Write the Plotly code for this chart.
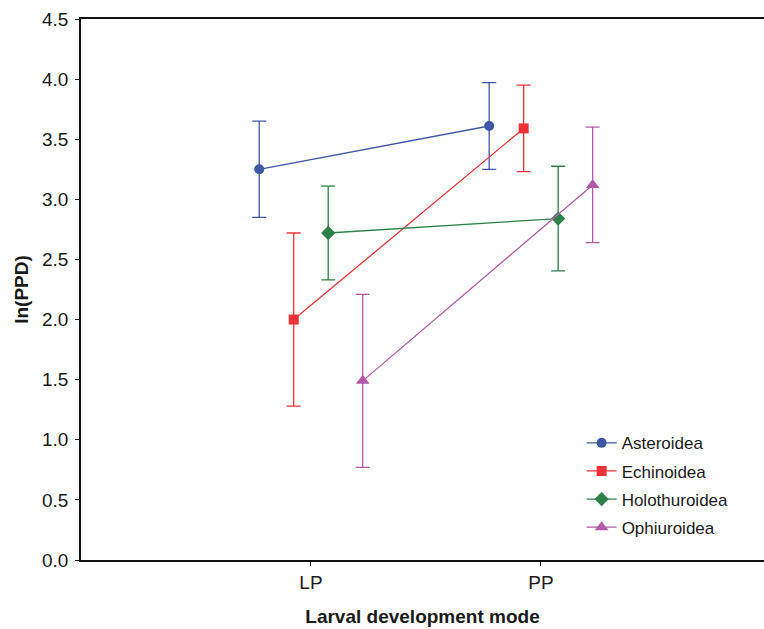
import plotly.graph_objects as go

modes = ["LP", "PP"]
series = ["Asteroidea", "Echinoidea", "Holothuroidea", "Ophiuroidea"]
means = {
    "Asteroidea": [3.25, 3.61],
    "Echinoidea": [2.00, 3.59],
    "Holothuroidea": [2.72, 2.84],
    "Ophiuroidea": [1.49, 3.12],
}
errors = {
    "Asteroidea": [0.40, 0.36],
    "Echinoidea": [0.72, 0.36],
    "Holothuroidea": [0.39, 0.435],
    "Ophiuroidea": [0.72, 0.48],
}
y_ticks = [0.0, 0.5, 1.0, 1.5, 2.0, 2.5, 3.0, 3.5, 4.0, 4.5]

colors = {
    "Asteroidea": "#3F57A5",
    "Echinoidea": "#EE3338",
    "Holothuroidea": "#2E8049",
    "Ophiuroidea": "#B25AA8",
}
symbols = {
    "Asteroidea": "circle",
    "Echinoidea": "square",
    "Holothuroidea": "diamond",
    "Ophiuroidea": "triangle-up",
}
msize = {"Asteroidea": 10, "Echinoidea": 10, "Holothuroidea": 11, "Ophiuroidea": 12}
offsets = [-0.225, -0.075, 0.075, 0.225]

fig = go.Figure()
for i, s in enumerate(series):
    xs = [k + offsets[i] for k in range(len(modes))]
    fig.add_trace(go.Scatter(
        x=xs, y=means[s], name=s, mode="lines+markers", legendgroup=s,
        line=dict(color=colors[s], width=1.3),
        marker=dict(symbol=symbols[s], size=msize[s], color=colors[s]),
        error_y=dict(type="data", array=errors[s], visible=True,
                     color=colors[s], thickness=1.3, width=7),
    ))

font = "Liberation Sans, Arial, sans-serif"
fig.update_layout(
    width=764, height=629,
    margin=dict(l=81, r=0, t=19, b=69),
    plot_bgcolor="white", paper_bgcolor="white",
    font=dict(family=font, size=19, color="#1a1a1a"),
    showlegend=True,
    legend=dict(x=0.733, y=0.249, xanchor="left", yanchor="top",
                font=dict(size=17, family=font, color="#1a1a1a"),
                bgcolor="rgba(0,0,0,0)", itemwidth=30,
                traceorder="grouped", tracegroupgap=3),
    xaxis=dict(range=[-1, 1.97], tickvals=[0, 1], ticktext=modes,
               showgrid=False, zeroline=False, showline=True,
               linecolor="#111", linewidth=1.5, mirror=True,
               ticks="outside", ticklen=4, tickcolor="#111",
               tickfont=dict(size=19),
               title=dict(text="<b>Larval development mode</b>",
                          font=dict(size=19), standoff=18)),
    yaxis=dict(range=[0, 4.5], tickvals=y_ticks,
               ticktext=[f"{v:.1f}" for v in y_ticks],
               showgrid=False, zeroline=False, showline=True,
               linecolor="#111", linewidth=1.5,
               ticks="outside", ticklen=4, tickcolor="#111",
               ticklabelstandoff=3,
               tickfont=dict(size=19),
               title=dict(text="<b>ln(PPD)</b>", font=dict(size=19), standoff=8)),
)
fig.write_html("out.html")
